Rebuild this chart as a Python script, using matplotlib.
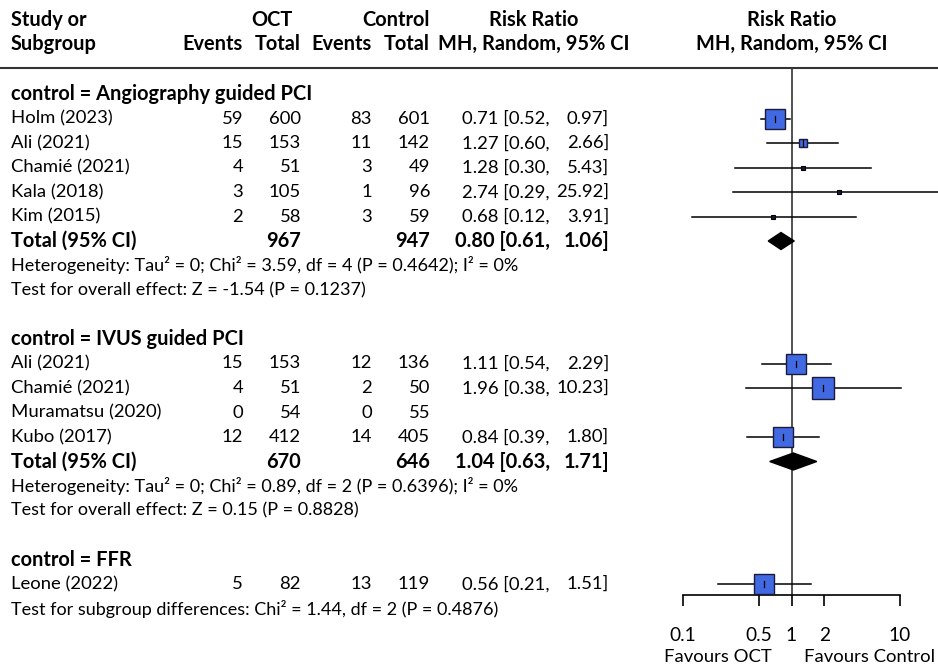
"""
Forest plot: OCT vs control, risk ratio by subgroup
"""

import numpy as np
import matplotlib

matplotlib.use("Agg")
import matplotlib.pyplot as plt
from matplotlib.patches import Polygon

plt.rcParams["font.family"] = ["Lato", "DejaVu Sans"]
FS = 13.3
FS_BOLD = 14.4
FS_SMALL = 13

# %%
# data
groups = ["control = Angiography guided PCI", "control = IVUS guided PCI", "control = FFR"]
studies = [
    ["Holm (2023)", "Ali (2021)", "Chamié (2021)", "Kala (2018)", "Kim (2015)"],
    ["Ali (2021)", "Chamié (2021)", "Muramatsu (2020)", "Kubo (2017)"],
    ["Leone (2022)"],
]
oct_events = [[59, 15, 4, 3, 2], [15, 4, 0, 12], [5]]
oct_total = [[600, 153, 51, 105, 58], [153, 51, 54, 412], [82]]
ctl_events = [[83, 11, 3, 1, 3], [12, 2, 0, 14], [13]]
ctl_total = [[601, 142, 49, 96, 59], [136, 50, 55, 405], [119]]
rr = [[0.71, 1.27, 1.28, 2.74, 0.68], [1.11, 1.96, None, 0.84], [0.56]]
rr_lo = [[0.52, 0.60, 0.30, 0.29, 0.12], [0.54, 0.38, None, 0.39], [0.21]]
rr_hi = [[0.97, 2.66, 5.43, 25.92, 3.91], [2.29, 10.23, None, 1.80], [1.51]]
# relative box weight (box area), as drawn
box_weight = [[100, 21, 6, 4, 4], [107, 125, 0, 107], [107]]

totals = [(967, 947, 0.80, 0.61, 1.06), (670, 646, 1.04, 0.63, 1.71), None]
heterogeneity = [
    "Heterogeneity: Tau² = 0; Chi² = 3.59, df = 4 (P = 0.4642); I² = 0%",
    "Heterogeneity: Tau² = 0; Chi² = 0.89, df = 2 (P = 0.6396); I² = 0%",
    None,
]
overall = [
    "Test for overall effect: Z = -1.54 (P = 0.1237)",
    "Test for overall effect: Z = 0.15 (P = 0.8828)",
    None,
]
subgroup_test = "Test for subgroup differences: Chi² = 1.44, df = 2 (P = 0.4876)"
ticks = [0.1, 0.5, 1, 2, 10]
tick_labels = ["0.1", "0.5", "1", "2", "10"]

# %%
# layout in pixels
W, H = 938, 666
y0, pitch = 94, 24.5
x_study, x_oe, x_ot, x_ce, x_ct, x_ci, x_hi = 11, 243, 301, 372, 430, 550, 609
box_color = "#4169e1"

fig = plt.figure(figsize=(W / 100, H / 100), dpi=100)
ax = fig.add_axes([0, 0, 1, 1])
ax.set_xlim(0, W)
ax.set_ylim(H, 0)
ax.axis("off")

# forest panel: 0.1 at x=683, 10 at x=900
dec = (900 - 683) / 2
fx0, fx1 = 660, W
fy0, fy1 = 68, 595
fa = fig.add_axes([fx0 / W, 1 - fy1 / H, (fx1 - fx0) / W, (fy1 - fy0) / H])
fa.set_xscale("log")
fa.set_xlim(10 ** (-1 - (683 - fx0) / dec), 10 ** (1 + (fx1 - 900) / dec))
fa.set_ylim(fy1, fy0)
fa.patch.set_alpha(0)
for s in ["top", "left", "right"]:
    fa.spines[s].set_visible(False)
fa.spines["bottom"].set_bounds(0.1, 10)
fa.spines["bottom"].set_linewidth(1.2)
fa.set_xticks(ticks)
fa.set_xticklabels(tick_labels, fontsize=FS + 0.5)
fa.minorticks_off()
fa.tick_params(axis="x", direction="out", length=8, width=1.2, pad=15)
fa.set_yticks([])
fa.axvline(1, color="#333333", lw=1.2, zorder=1)

# header
hdr = dict(fontsize=FS_BOLD, fontweight="bold", va="center")
ax.text(x_study, 20, "Study or", ha="left", **hdr)
ax.text(x_study, 44, "Subgroup", ha="left", **hdr)
ax.text(272, 20, "OCT", ha="center", **hdr)
ax.text(396, 20, "Control", ha="center", **hdr)
ax.text(534, 20, "Risk Ratio", ha="center", **hdr)
for x, s in [(x_oe, "Events"), (x_ot, "Total"), (x_ce, "Events"), (x_ct, "Total")]:
    ax.text(x, 44, s, ha="right", **hdr)
ax.text(534, 44, "MH, Random, 95% CI", ha="center", **hdr)
ax.text(792, 20, "Risk Ratio", ha="center", **hdr)
ax.text(792, 44, "MH, Random, 95% CI", ha="center", **hdr)
ax.plot([0, W], [68, 68], color="#333333", lw=1.5)

row = 0
txt = dict(fontsize=FS, va="center")
bold = dict(fontsize=FS_BOLD, fontweight="bold", va="center")
small = dict(fontsize=FS_SMALL, va="center", ha="left")
for g in range(len(groups)):
    y = y0 + pitch * row
    ax.text(x_study, y, groups[g], ha="left", **bold)
    row += 1
    for i, name in enumerate(studies[g]):
        y = y0 + pitch * row
        ax.text(x_study, y, name, ha="left", **txt)
        ax.text(x_oe, y, str(oct_events[g][i]), ha="right", **txt)
        ax.text(x_ot, y, str(oct_total[g][i]), ha="right", **txt)
        ax.text(x_ce, y, str(ctl_events[g][i]), ha="right", **txt)
        ax.text(x_ct, y, str(ctl_total[g][i]), ha="right", **txt)
        if rr[g][i] is not None:
            ax.text(x_ci, y, f"{rr[g][i]:.2f} [{rr_lo[g][i]:.2f},", ha="right", **txt)
            ax.text(x_hi, y, f"{rr_hi[g][i]:.2f}]", ha="right", **txt)
            fa.plot([rr_lo[g][i], rr_hi[g][i]], [y, y], color="black", lw=1.1, zorder=2)
            side = 19.5 * np.sqrt(box_weight[g][i] / 100)
            if side > 6:
                fa.plot(rr[g][i], y, marker="s", ms=side * 0.72, mfc=box_color,
                        mec="#1a1a3a", mew=1.0, zorder=3)
                fa.plot([rr[g][i]] * 2, [y - 3, y + 3], color="black", lw=0.9, zorder=4)
            else:
                fa.plot(rr[g][i], y, marker="s", ms=side * 0.72, mfc="#1a1a3a",
                        mec="black", mew=0.8, zorder=3)
        row += 1
    if totals[g] is not None:
        te, tc, est, lo, hi = totals[g]
        y = y0 + pitch * row
        ax.text(x_study, y, "Total (95% CI)", ha="left", **bold)
        ax.text(x_ot, y, str(te), ha="right", **bold)
        ax.text(x_ct, y, str(tc), ha="right", **bold)
        ax.text(x_ci, y, f"{est:.2f} [{lo:.2f},", ha="right", **bold)
        ax.text(x_hi, y, f"{hi:.2f}]", ha="right", **bold)
        fa.add_patch(Polygon([(lo, y), (est, y - 8.5), (hi, y), (est, y + 8.5)],
                             closed=True, color="black", zorder=3))
        row += 1
        ax.text(x_study, y0 + pitch * row, heterogeneity[g], **small)
        row += 1
        ax.text(x_study, y0 + pitch * row, overall[g], **small)
        row += 2
    else:
        ax.text(x_study, y0 + pitch * row, subgroup_test, **small)

ax.text(718, 657, "Favours OCT", ha="center", fontsize=FS, va="center")
ax.text(870, 657, "Favours Control", ha="center", fontsize=FS, va="center")

fig.savefig("out.png", dpi=100)
